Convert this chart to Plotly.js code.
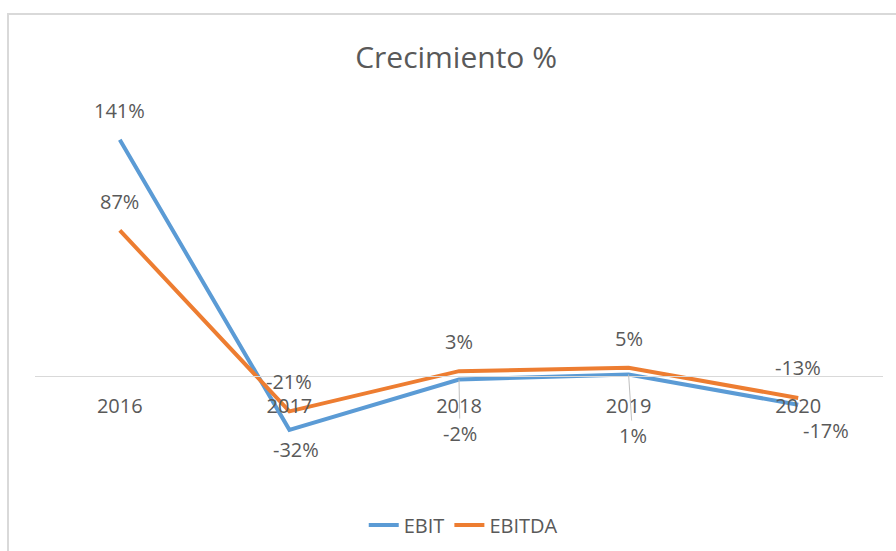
<!DOCTYPE html>
<html>
<head>
<meta charset="utf-8">
<script src="https://cdn.plot.ly/plotly-3.0.1.min.js"></script>
<style>
  html, body { margin: 0; padding: 0; background: #fff; }
  #chart { width: 896px; height: 551px; position: absolute; left: 0; top: 0; }
  #frame { position: absolute; left: 7px; top: 13px; width: 1000px; height: 1000px;
           border-left: 2px solid #d9d9d9; border-top: 2px solid #d9d9d9; pointer-events: none; }
</style>
</head>
<body>
<div id="chart"></div>
<div id="frame"></div>
<script>
const years = ["2016", "2017", "2018", "2019", "2020"];
const ebit = [141, -32, -2, 1, -17];
const ebitda = [87, -21, 3, 5, -13];

// label placement (pixel offsets from the point) and leader-line flags
const ebitLabelPos = [[0, -29, false], [7, 20, false], [1, 54, true], [4, 61, true], [28, 26, false]];
const ebitdaLabelPos = [[0, -29, false], [0, -30, false], [0, -30, false], [0, -29, false], [0, -30, false]];

const FONT = "Open Sans, Noto Sans, sans-serif";
const TXT = "#595959";
const idx = years.map((_, i) => i);

const traces = [
  { x: idx, y: ebit, name: "EBIT", type: "scatter", mode: "lines",
    line: { color: "#5B9BD5", width: 4 }, hoverinfo: "skip" },
  { x: idx, y: ebitda, name: "EBITDA", type: "scatter", mode: "lines",
    line: { color: "#ED7D31", width: 4 }, hoverinfo: "skip" }
];

function labels(vals, pos) {
  return vals.map((v, i) => {
    const [dx, dy, leader] = pos[i];
    const a = { x: i, y: v, xref: "x", yref: "y", text: v + "%",
      font: { family: FONT, size: 20, color: TXT } };
    if (leader) {
      Object.assign(a, { showarrow: true, ax: dx, ay: dy, axref: "pixel", ayref: "pixel",
        arrowhead: 0, arrowwidth: 1, arrowcolor: "#bfbfbf", standoff: 0 });
    } else {
      Object.assign(a, { showarrow: false, xshift: dx, yshift: -dy });
    }
    return a;
  });
}

const yMin = -50, yMax = 160;

const layout = {
  width: 896, height: 551,
  margin: { l: 35, r: 13, t: 108, b: 91, autoexpand: false },
  paper_bgcolor: "#fff", plot_bgcolor: "rgba(0,0,0,0)",
  title: { text: "Crecimiento %", x: 0.509, xanchor: "center", y: 0.895, yanchor: "middle",
    font: { family: FONT, size: 30, color: TXT }, automargin: false },
  showlegend: true,
  legend: { orientation: "h", x: 0.505, xanchor: "center", y: -0.185, yanchor: "middle",
    font: { family: FONT, size: 20, color: TXT } },
  xaxis: {
    range: [-0.5, 4.5], tickvals: idx, ticktext: years,
    anchor: "free", position: (0 - yMin) / (yMax - yMin),
    showline: true, linecolor: "#d9d9d9", linewidth: 1,
    showgrid: false, zeroline: false, automargin: false,
    ticks: "outside", ticklen: 12, tickcolor: "rgba(0,0,0,0)",
    tickfont: { family: FONT, size: 20, color: TXT }, fixedrange: true
  },
  yaxis: { range: [yMin, yMax], visible: false, showgrid: false, zeroline: false, fixedrange: true },
  annotations: labels(ebit, ebitLabelPos).concat(labels(ebitda, ebitdaLabelPos))
};

Plotly.newPlot("chart", traces, layout, { displayModeBar: false, staticPlot: true });
</script>
</body>
</html>
